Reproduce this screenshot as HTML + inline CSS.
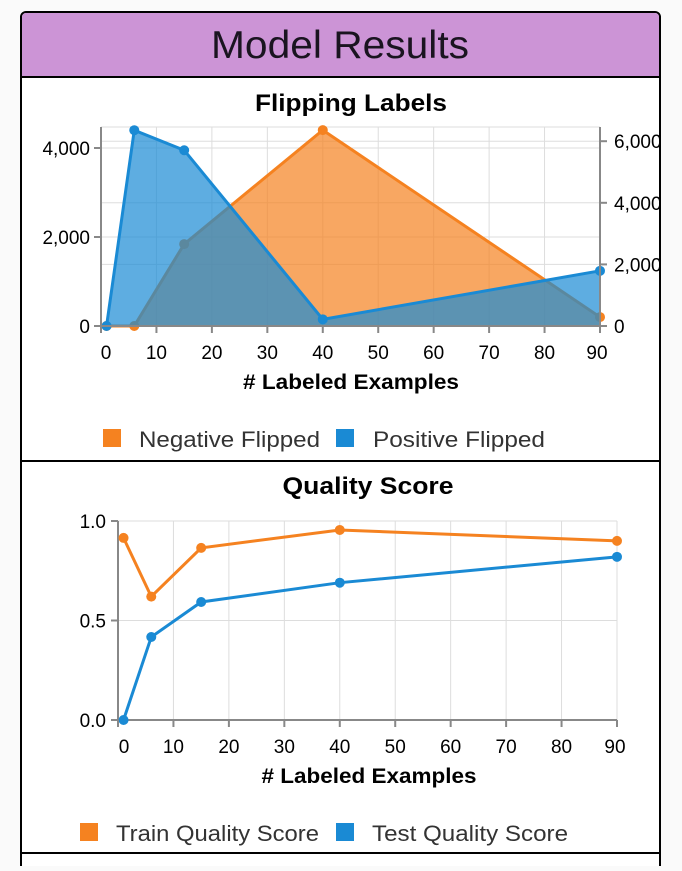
<!DOCTYPE html>
<html><head><meta charset="utf-8"><style>
body{margin:0;background:#fafafa;width:682px;height:866px;overflow:hidden;font-family:"Liberation Sans",sans-serif}
</style></head><body>
<svg id="s" width="682" height="866" xmlns="http://www.w3.org/2000/svg" font-family="Liberation Sans, sans-serif">
<rect x="21" y="12" width="639" height="870" rx="5" fill="#fff" stroke="#000" stroke-width="2"/>
<path d="M22 76 V17 a4 4 0 0 1 4 -4 H655 a4 4 0 0 1 4 4 V76 Z" fill="#cc94d6"/>
<line x1="21" y1="77" x2="660" y2="77" stroke="#000" stroke-width="2"/>
<line x1="21" y1="461" x2="660" y2="461" stroke="#000" stroke-width="2"/>
<line x1="21" y1="853" x2="660" y2="853" stroke="#000" stroke-width="2"/>
<text x="340" y="58" text-anchor="middle" font-size="39" fill="#1a1420" textLength="258" lengthAdjust="spacingAndGlyphs">Model Results</text>
<text x="351" y="111" text-anchor="middle" font-size="24" font-weight="bold" textLength="192" lengthAdjust="spacingAndGlyphs">Flipping Labels</text>
<text x="351" y="389" text-anchor="middle" font-size="21" font-weight="bold" textLength="216" lengthAdjust="spacingAndGlyphs"># Labeled Examples</text>
<text x="368" y="494" text-anchor="middle" font-size="24" font-weight="bold" textLength="171" lengthAdjust="spacingAndGlyphs">Quality Score</text>
<text x="369" y="783" text-anchor="middle" font-size="21" font-weight="bold" textLength="215" lengthAdjust="spacingAndGlyphs"># Labeled Examples</text>
<g id="c1"></g><g id="c2"></g>
<rect x="103" y="429" width="18" height="18" fill="#f58220"/>
<text x="139" y="447" font-size="22" fill="#333" textLength="181" lengthAdjust="spacingAndGlyphs">Negative Flipped</text>
<rect x="336" y="429" width="18" height="18" fill="#1a8ad4"/>
<text x="373" y="447" font-size="22" fill="#333" textLength="172" lengthAdjust="spacingAndGlyphs">Positive Flipped</text>
<rect x="80" y="823" width="18" height="18" fill="#f58220"/>
<text x="116" y="841" font-size="22" fill="#333" textLength="203" lengthAdjust="spacingAndGlyphs">Train Quality Score</text>
<rect x="336" y="823" width="18" height="18" fill="#1a8ad4"/>
<text x="372" y="841" font-size="22" fill="#333" textLength="196" lengthAdjust="spacingAndGlyphs">Test Quality Score</text>
</svg>
<script>
const xVals=[1,6,15,40,90];
const xTicks=[0,10,20,30,40,50,60,70,80,90];
const positiveFlipped=[0,4400,3950,150,1240];
const negativeFlipped=[0,0,2660,6360,290];
const leftTicks=[0,2000,4000];
const rightTicks=[0,2000,4000,6000];
const qTicks=[0,0.5,1.0];
const trainQuality=[0.915,0.62,0.865,0.955,0.9];
const testQuality=[0,0.417,0.593,0.69,0.82];
const NS="http://www.w3.org/2000/svg";
function mk(p,t,a){const e=document.createElementNS(NS,t);for(const k in a)e.setAttribute(k,a[k]);p.appendChild(e);return e;}
function fmt(v){return v.toLocaleString('en-US');}
const ORG="#f58220",BLU="#1a8ad4";
const FS=19;
// chart 1
const c1=document.getElementById('c1');
const x1=v=>101+(v/90)*499;
const yl=v=>326-v*0.0445;
const yr=v=>326-v*0.0308;
for(const t of xTicks){mk(c1,'line',{x1:x1(t),x2:x1(t),y1:127,y2:326,stroke:'#ddd'});}
for(const t of leftTicks){mk(c1,'line',{x1:101,x2:600,y1:yl(t),y2:yl(t),stroke:'#ddd'});}
for(const t of rightTicks){mk(c1,'line',{x1:101,x2:600,y1:yr(t),y2:yr(t),stroke:'#ddd'});}
mk(c1,'line',{x1:101,x2:600,y1:127,y2:127,stroke:'#ddd'});
function area(g,ys,yf,col,name){
 let d='M'+x1(xVals[0])+' '+yf(0);
 xVals.forEach((x,i)=>d+=' L'+x1(x)+' '+yf(ys[i]));
 d+=' L'+x1(xVals[xVals.length-1])+' '+yf(0)+' Z';
 const a=mk(g,'path',{d:d,fill:col,'fill-opacity':0.7});
 
 
 const l=mk(g,'polyline',{points:xVals.map((x,i)=>x1(x)+','+yf(ys[i])).join(' '),fill:'none',stroke:col,'stroke-width':3});
 
 
 xVals.forEach((x,i)=>{const c=mk(g,'circle',{cx:x1(x),cy:yf(ys[i]),r:5,fill:col});
 
 });
}
area(c1,negativeFlipped,yr,ORG,'negative-flipped');
area(c1,positiveFlipped,yl,BLU,'positive-flipped');
mk(c1,'line',{x1:101,x2:101,y1:127,y2:326,stroke:'#888','stroke-width':2});
mk(c1,'line',{x1:600,x2:600,y1:127,y2:326,stroke:'#888','stroke-width':2});
mk(c1,'line',{x1:101,x2:600,y1:326,y2:326,stroke:'#888','stroke-width':2});
for(const t of xTicks){mk(c1,'line',{x1:x1(t),x2:x1(t),y1:326,y2:333,stroke:'#888','stroke-width':2});
 const tx=mk(c1,'text',{x:x1(t)+(t==0?5:t==90?-3:0),y:359,'text-anchor':'middle','font-size':FS});tx.textContent=t;}
for(const t of leftTicks){mk(c1,'line',{x1:94,x2:101,y1:yl(t),y2:yl(t),stroke:'#888','stroke-width':2});
 const tx=mk(c1,'text',{x:90,y:yl(t)+7,'text-anchor':'end','font-size':FS});tx.textContent=fmt(t);}
for(const t of rightTicks){mk(c1,'line',{x1:600,x2:607,y1:yr(t),y2:yr(t),stroke:'#888','stroke-width':2});
 const tx=mk(c1,'text',{x:614,y:yr(t)+7,'font-size':FS});tx.textContent=fmt(t);}
// chart 2
const c2=document.getElementById('c2');
const x2=v=>118+(v/90)*499;
const y2=v=>720-v*199;
for(const t of xTicks){mk(c2,'line',{x1:x2(t),x2:x2(t),y1:521,y2:720,stroke:'#ddd'});}
for(const t of qTicks){mk(c2,'line',{x1:118,x2:617,y1:y2(t),y2:y2(t),stroke:'#ddd'});}
mk(c2,'line',{x1:118,x2:118,y1:521,y2:720,stroke:'#888','stroke-width':2});
mk(c2,'line',{x1:118,x2:617,y1:720,y2:720,stroke:'#888','stroke-width':2});
function line(ys,col,name){
 const l=mk(c2,'polyline',{points:xVals.map((x,i)=>x2(x)+','+y2(ys[i])).join(' '),fill:'none',stroke:col,'stroke-width':3});
 
 
 xVals.forEach((x,i)=>{const c=mk(c2,'circle',{cx:x2(x),cy:y2(ys[i]),r:5,fill:col});
 
 });
}
line(trainQuality,ORG,'train-quality');
line(testQuality,BLU,'test-quality');
for(const t of xTicks){mk(c2,'line',{x1:x2(t),x2:x2(t),y1:720,y2:727,stroke:'#888','stroke-width':2});
 const tx=mk(c2,'text',{x:x2(t)+(t==0?6:t==90?-2:0),y:753,'text-anchor':'middle','font-size':FS});tx.textContent=t;}
for(const t of qTicks){mk(c2,'line',{x1:111,x2:118,y1:y2(t),y2:y2(t),stroke:'#888','stroke-width':2});
 const tx=mk(c2,'text',{x:106,y:y2(t)+7,'text-anchor':'end','font-size':FS});tx.textContent=t.toFixed(1);}
</script>
</body></html>
